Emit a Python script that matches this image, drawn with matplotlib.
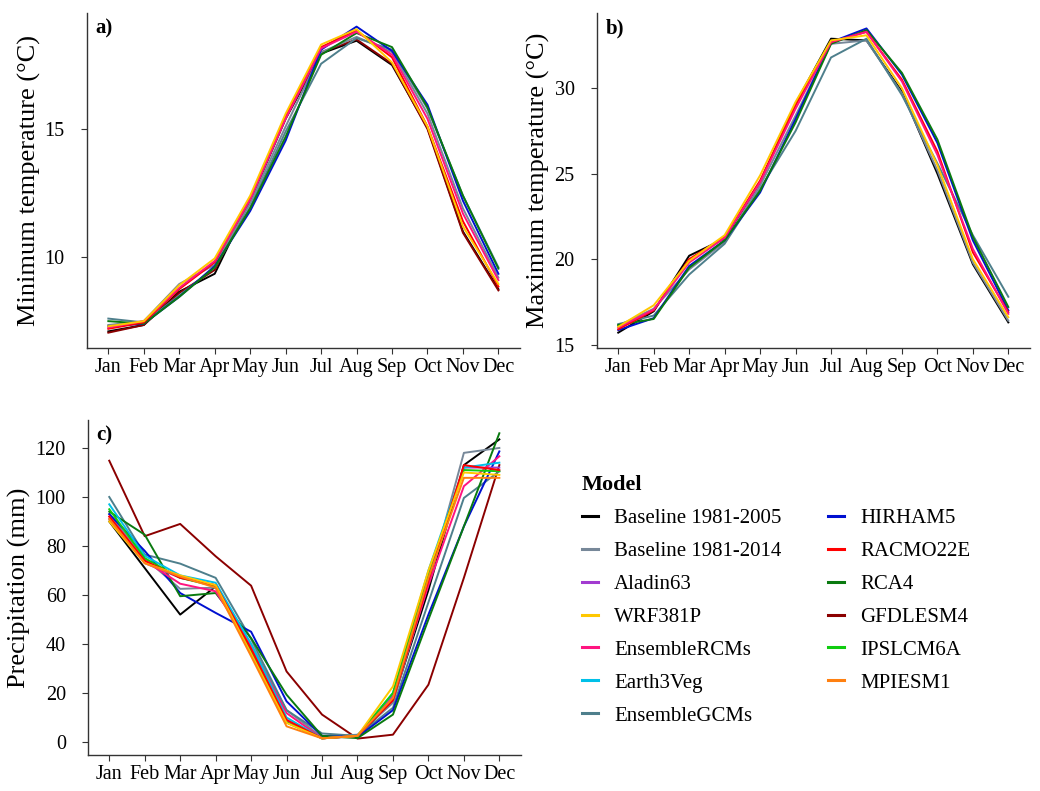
import numpy as np
import matplotlib
matplotlib.use("Agg")
import matplotlib.pyplot as plt
from matplotlib.lines import Line2D

plt.rcParams['font.family'] = ['Liberation Serif', 'DejaVu Serif']

months = ['Jan', 'Feb', 'Mar', 'Apr', 'May', 'Jun', 'Jul', 'Aug', 'Sep', 'Oct', 'Nov', 'Dec']

models = ['Baseline 1981-2005', 'Baseline 1981-2014', 'Aladin63', 'WRF381P', 'EnsembleRCMs',
          'Earth3Veg', 'EnsembleGCMs', 'HIRHAM5', 'RACMO22E', 'RCA4', 'GFDLESM4',
          'IPSLCM6A', 'MPIESM1']
colors = {'Baseline 1981-2005': '#000000', 'Baseline 1981-2014': '#778899',
          'Aladin63': '#A23BD0', 'WRF381P': '#FFC800', 'EnsembleRCMs': '#FF1480',
          'Earth3Veg': '#00C0E8', 'EnsembleGCMs': '#4E7F8C', 'HIRHAM5': '#0010D0',
          'RACMO22E': '#FF0000', 'RCA4': '#0A7A10', 'GFDLESM4': '#8B0000',
          'IPSLCM6A': '#10CC10', 'MPIESM1': '#FF8010'}

# a) minimum temperature (degC)
tmin = {
    'Baseline 1981-2005': [7.1, 7.35, 8.65, 9.35, 12.2, 15.4, 17.95, 18.45, 17.5, 15.05, 11.0, 8.75],
    'GFDLESM4':           [7.05, 7.35, 8.6, 9.5, 12.25, 15.45, 18.0, 18.5, 17.55, 15.0, 10.95, 8.7],
    'Baseline 1981-2014': [7.35, 7.5, 8.95, 9.7, 12.1, 15.1, 18.0, 18.6, 18.0, 15.6, 11.9, 9.2],
    'EnsembleGCMs':       [7.6, 7.45, 8.5, 9.6, 11.95, 14.9, 17.55, 18.55, 18.1, 15.8, 12.4, 9.6],
    'HIRHAM5':            [7.3, 7.4, 8.45, 9.65, 11.8, 14.55, 18.1, 19.0, 18.05, 15.95, 12.2, 9.35],
    'RCA4':               [7.5, 7.4, 8.45, 9.6, 11.9, 14.7, 17.9, 18.75, 18.2, 15.85, 12.4, 9.55],
    'RACMO22E':           [7.2, 7.45, 8.75, 9.8, 12.3, 15.5, 18.2, 18.85, 17.8, 15.1, 11.4, 8.85],
    'EnsembleRCMs':       [7.25, 7.5, 8.8, 9.85, 12.25, 15.4, 18.15, 18.8, 17.9, 15.4, 11.7, 9.1],
    'WRF381P':            [7.3, 7.5, 8.9, 9.95, 12.4, 15.6, 18.3, 18.9, 17.6, 15.1, 11.2, 8.95],
}

# b) maximum temperature (degC)
tmax = {
    'Baseline 1981-2005': [15.7, 16.95, 20.2, 21.2, 24.5, 29.1, 32.9, 32.8, 29.8, 25.0, 19.7, 16.3],
    'Baseline 1981-2014': [16.1, 17.1, 19.4, 21.0, 24.3, 28.4, 32.6, 32.8, 29.7, 25.2, 19.8, 16.4],
    'EnsembleGCMs':       [16.2, 16.7, 19.1, 20.9, 24.1, 27.5, 31.8, 32.9, 29.6, 25.6, 21.4, 17.8],
    'HIRHAM5':            [15.85, 16.55, 19.6, 21.1, 23.9, 28.2, 32.7, 33.5, 30.8, 26.8, 21.1, 17.0],
    'RCA4':               [16.15, 16.5, 19.5, 21.1, 24.0, 28.0, 32.6, 33.4, 30.9, 27.0, 21.3, 17.2],
    'RACMO22E':           [15.9, 17.0, 20.0, 21.3, 24.6, 29.0, 32.7, 33.3, 30.5, 26.3, 20.4, 16.9],
    'EnsembleRCMs':       [16.0, 17.05, 19.8, 21.25, 24.5, 28.8, 32.7, 33.3, 30.4, 26.1, 20.6, 16.8],
    'WRF381P':            [16.05, 17.3, 19.9, 21.4, 24.9, 29.2, 32.8, 33.1, 30.0, 25.5, 20.0, 16.6],
}

# c) precipitation (mm)
prec = {
    'Baseline 1981-2005': [90, 71, 52, 63.5, 38, 8, 2, 2, 17, 62, 113, 123.5],
    'Baseline 1981-2014': [93, 75, 62.5, 63, 40, 13, 2, 3, 16, 65, 118, 120],
    'Aladin63':           [91, 73, 67, 64, 38, 9, 1.5, 2.5, 19, 68, 112, 112],
    'WRF381P':            [90, 73, 68, 64, 36, 7.8, 1.5, 2.5, 22.7, 70, 110, 109],
    'EnsembleRCMs':       [92, 74, 64.6, 61.5, 39, 11.8, 1.5, 2.5, 18, 64, 104.4, 116.6],
    'Earth3Veg':          [97, 76, 68, 65, 40, 10, 1.5, 2.5, 20, 70, 112, 114],
    'EnsembleGCMs':       [100, 76.5, 72.8, 67, 42, 13, 3.5, 2.5, 14, 57, 99.6, 110.5],
    'HIRHAM5':            [93, 78, 60.8, 52.7, 45, 16.6, 2.5, 2, 13, 52, 88, 118.6],
    'RACMO22E':           [92, 74, 67, 64, 38, 9, 1.5, 2.5, 17, 66, 113, 111],
    'RCA4':               [94, 84.6, 59.5, 60.8, 42.4, 19.3, 2.5, 1.6, 11.2, 50, 88, 126],
    'GFDLESM4':           [114.8, 84, 89, 75.8, 63.8, 28.8, 11.2, 1.4, 3, 23.4, 67, 113],
    'IPSLCM6A':           [95, 75, 67, 63.5, 37, 8, 1.5, 2.5, 20, 69, 111, 110.5],
    'MPIESM1':            [91, 73, 67.5, 63, 35, 6.4, 1.5, 2.5, 18, 67, 107.8, 107.8],
}

fig = plt.figure(figsize=(10.4, 7.91), dpi=100)
ax_a = fig.add_axes([0.0837, 0.560, 0.416, 0.4235])
ax_b = fig.add_axes([0.574, 0.560, 0.416, 0.4235])
ax_c = fig.add_axes([0.0846, 0.0455, 0.416, 0.4235])

x = np.arange(1, 13)


def style(ax, ylabel, ylim, yticks, tag):
    ax.set_xlim(0.4, 12.6)
    ax.set_ylim(*ylim)
    ax.set_xticks(x)
    ax.set_xticklabels(months, fontsize=14.5)
    ax.set_yticks(yticks)
    ax.set_yticklabels([str(t) for t in yticks], fontsize=14.5)
    ax.set_ylabel(ylabel, fontsize=19, labelpad=3)
    for s in ['top', 'right']:
        ax.spines[s].set_visible(False)
    for s in ['left', 'bottom']:
        ax.spines[s].set_color('#333333')
        ax.spines[s].set_linewidth(1.0)
    ax.tick_params(axis='both', colors='#333333', labelcolor='black', length=4, width=0.8)
    ax.tick_params(axis='y', pad=12)
    ax.text(0.02, 0.985, tag, transform=ax.transAxes, fontsize=15, fontweight='bold',
            va='top', ha='left')


for name, vals in tmin.items():
    ax_a.plot(x, vals, color=colors[name], lw=1.4)
style(ax_a, 'Minimum temperature (°C)', (6.45, 19.53), [10, 15], 'a)')

for name, vals in tmax.items():
    ax_b.plot(x, vals, color=colors[name], lw=1.4)
style(ax_b, 'Maximum temperature (°C)', (14.8, 34.4), [15, 20, 25, 30], 'b)')

order_c = ['GFDLESM4', 'Baseline 1981-2005', 'Baseline 1981-2014', 'EnsembleGCMs', 'HIRHAM5',
           'RCA4', 'Aladin63', 'EnsembleRCMs', 'Earth3Veg', 'IPSLCM6A', 'RACMO22E',
           'WRF381P', 'MPIESM1']
for name in order_c:
    ax_c.plot(x, prec[name], color=colors[name], lw=1.4)
style(ax_c, 'Precipitation (mm)', (-5.3, 131.4), [0, 20, 40, 60, 80, 100, 120], 'c)')

handles = [Line2D([0], [0], color=colors[m], lw=2.2) for m in models]
leg = fig.legend(handles, models, loc='upper left', bbox_to_anchor=(0.5415, 0.423),
                 ncol=2, frameon=False, fontsize=15, handlelength=0.75, handletextpad=0.8,
                 labelspacing=0.64, columnspacing=2.23, title='Model',
                 title_fontproperties={'weight': 'bold', 'size': 16}, alignment='left')

fig.savefig('out.png', dpi=100)
